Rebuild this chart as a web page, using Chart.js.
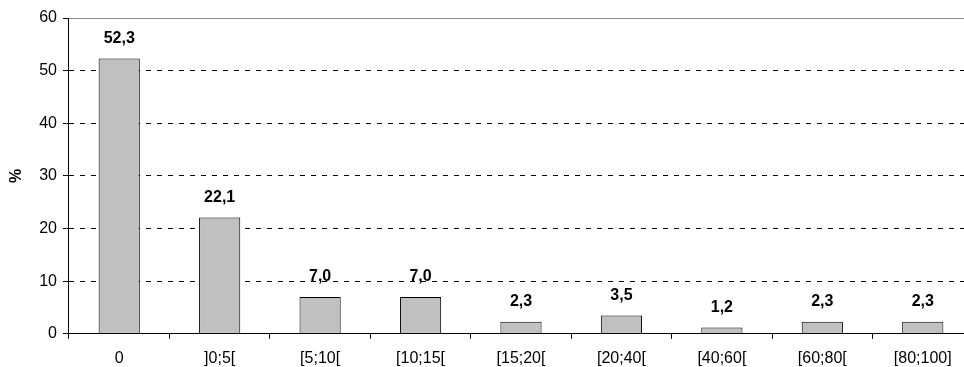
<!DOCTYPE html>
<html lang="fr">
<head>
    <meta charset="UTF-8">
    <title>Distribution (%)</title>
    <script src="https://cdn.jsdelivr.net/npm/chart.js@4"></script>
    <style>
        html, body { margin: 0; padding: 0; background: #fff; overflow: hidden; }
        /* plot runs past the right edge in the original, so the box is bigger than the window */
        #wrap { width: 980px; height: 378px; }
    </style>
    <script>

// categories on the x axis
const categories = ['0', ']0;5[', '[5;10[', '[10;15[', '[15;20[', '[20;40[', '[40;60[', '[60;80[', '[80;100]'];

// percentage for each class
const values = [52.3, 22.1, 7.0, 7.0, 2.3, 3.5, 1.2, 2.3, 2.3];

// y axis
const yTicks = [0, 10, 20, 30, 40, 50, 60];
const yTitle = '%';

const FONT = "'Liberation Sans', Arial, sans-serif";

// value labels above the bars, decimal comma
const valueLabels = {
    id: 'valueLabels',
    afterDatasetsDraw(chart) {
        const ctx = chart.ctx;
        const meta = chart.getDatasetMeta(0);
        ctx.save();
        ctx.font = 'bold 16px ' + FONT;
        ctx.fillStyle = '#000';
        ctx.textAlign = 'center';
        ctx.textBaseline = 'middle';
        meta.data.forEach((bar, i) => {
            const txt = values[i].toFixed(1).replace('.', ',');
            ctx.fillText(txt, bar.x, bar.y - 20);
        });
        ctx.restore();
    }
};

// solid grey line along the top of the plot area
const topLine = {
    id: 'topLine',
    beforeDatasetsDraw(chart) {
        const a = chart.chartArea;
        const ctx = chart.ctx;
        ctx.save();
        ctx.strokeStyle = '#8c8c8c';
        ctx.lineWidth = 1;
        ctx.beginPath();
        ctx.moveTo(a.left, Math.round(a.top) + 0.5);
        ctx.lineTo(a.right, Math.round(a.top) + 0.5);
        ctx.stroke();
        ctx.restore();
    }
};

document.addEventListener("DOMContentLoaded", function() {

    const ctx = document.getElementById('myChart').getContext('2d');

    const config = {
        type: 'bar',
        data: {
            labels: categories,
            datasets: [{
                data: values,
                backgroundColor: '#c0c0c0',
                borderColor: '#000',
                borderWidth: 1,
                barPercentage: 1,
                categoryPercentage: 0.41
            }]
        },
        options: {
            responsive: true,
            maintainAspectRatio: false,
            animation: false,
            layout: { padding: { left: 4, right: 7, top: 18, bottom: 0 } },
            plugins: {
                legend: { display: false },
                tooltip: { enabled: false }
            },
            scales: {
                x: {
                    grid: {
                        offset: true,
                        drawOnChartArea: false,
                        color: '#000',
                        tickLength: 5
                    },
                    border: { color: '#000', width: 1 },
                    ticks: {
                        color: '#000',
                        padding: 10,
                        maxRotation: 0,
                        autoSkip: false,
                        font: { family: FONT, size: 16 }
                    }
                },
                y: {
                    min: yTicks[0],
                    max: yTicks[yTicks.length - 1],
                    afterBuildTicks: axis => { axis.ticks = yTicks.map(v => ({ value: v })); },
                    grid: {
                        color: c => (c.tick && (c.tick.value === 0 || c.tick.value === 60)) ? 'rgba(0,0,0,0)' : '#000',
                        tickColor: '#000',
                        tickLength: 6,
                        tickBorderDash: []
                    },
                    border: { color: '#000', width: 1, dash: [5, 6] },
                    ticks: {
                        color: '#000',
                        padding: 6,
                        font: { family: FONT, size: 16 }
                    },
                    title: {
                        display: true,
                        text: yTitle,
                        color: '#000',
                        padding: { top: 3, bottom: 7 },
                        font: { family: FONT, size: 16, weight: 'bold' }
                    }
                }
            }
        },
        plugins: [topLine, valueLabels]
    };

    new Chart(ctx, config);
});
    </script>
</head>
<body>
    <div id="wrap"><canvas id="myChart"></canvas></div>
</body>
</html>
